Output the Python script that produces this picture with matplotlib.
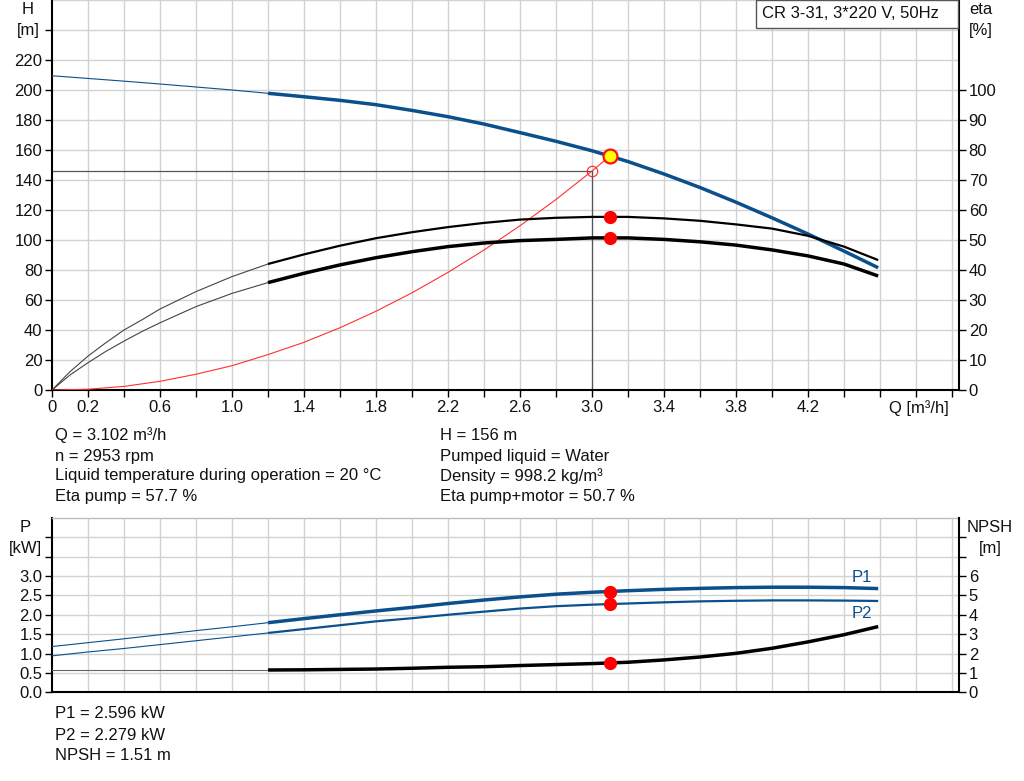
import matplotlib
matplotlib.use('Agg')
import matplotlib.pyplot as plt
from matplotlib.patches import Rectangle
from matplotlib.ticker import FixedLocator

plt.rcParams['font.family'] = ['Liberation Sans', 'DejaVu Sans']
plt.rcParams['font.size'] = 12

# ---------------- data ----------------
q_thin = [0.0, 0.2, 0.4, 0.6, 0.8, 1.0, 1.2]
q_thin_eta = [0.0, 0.1, 0.2, 0.3, 0.4, 0.5, 0.6, 0.8, 1.0, 1.2]
q_main = [1.2, 1.4, 1.6, 1.8, 2.0, 2.2, 2.4, 2.6, 2.8, 3.0, 3.2, 3.4,
          3.6, 3.8, 4.0, 4.2, 4.4, 4.59]

h_thin = [209.5, 207.7, 205.9, 204.0, 202.0, 200.0, 197.8]
h_main = [197.8, 195.5, 193.1, 190.2, 186.4, 182.2, 177.3, 171.6, 165.8,
          159.5, 152.3, 144.0, 135.0, 125.2, 114.8, 104.0, 92.6, 81.5]

eta_p_thin = [0.0, 6.1, 11.3, 15.8, 20.0, 23.4, 27.0, 32.8, 37.8, 42.0]
eta_p_main = [42.0, 45.2, 48.1, 50.6, 52.6, 54.3, 55.7, 56.8, 57.4,
              57.7, 57.7, 57.2, 56.4, 55.2, 53.8, 51.4, 47.8, 43.3]

eta_pm_thin = [0.0, 5.0, 9.1, 12.9, 16.3, 19.5, 22.4, 27.8, 32.2, 35.8]
eta_pm_main = [35.8, 38.9, 41.7, 44.1, 46.1, 47.8, 49.0, 49.8, 50.2,
               50.7, 50.7, 50.2, 49.4, 48.3, 46.7, 44.7, 42.0, 38.0]

q_sys = [0.0, 0.2, 0.4, 0.6, 0.8, 1.0, 1.2, 1.4, 1.6, 1.8, 2.0, 2.2,
         2.4, 2.6, 2.8, 3.0, 3.1]
h_sys = [0.0, 0.5, 2.4, 5.8, 10.5, 16.2, 23.6, 31.8, 41.5, 52.5, 64.8,
         78.4, 93.3, 109.5, 127.0, 146.0, 156.0]

p1_thin = [1.18, 1.28, 1.38, 1.485, 1.59, 1.69, 1.795]
p1_main = [1.795, 1.90, 2.00, 2.098, 2.19, 2.29, 2.38, 2.46, 2.53,
           2.58, 2.62, 2.655, 2.68, 2.70, 2.71, 2.71, 2.70, 2.675]

p2_thin = [0.94, 1.04, 1.13, 1.23, 1.33, 1.43, 1.53]
p2_main = [1.53, 1.63, 1.73, 1.83, 1.91, 2.00, 2.08, 2.16, 2.22,
           2.26, 2.29, 2.32, 2.345, 2.36, 2.37, 2.37, 2.365, 2.355]

npsh_thin = [1.15, 1.15, 1.15, 1.15, 1.15, 1.15, 1.15]
npsh_main = [1.15, 1.16, 1.18, 1.20, 1.24, 1.29, 1.32, 1.38, 1.43,
             1.48, 1.55, 1.67, 1.82, 2.01, 2.27, 2.60, 2.97, 3.39]

duty_q = 3.102
duty_h = 156.0
duty_eta_p = 57.7
duty_eta_pm = 50.7
duty_p1 = 2.596
duty_p2 = 2.279
duty_npsh = 1.51
sys_q = 3.0
sys_h = 146.0

q_ticks = [round(0.2 * i, 1) for i in range(26)]
q_tick_labels = ['0', '0.2', '', '0.6', '', '1.0', '', '1.4', '', '1.8', '',
                 '2.2', '', '2.6', '', '3.0', '', '3.4', '', '3.8', '', '4.2',
                 '', '', '', '']
h_ticks = list(range(0, 241, 20))
h_tick_labels = [str(v) if v <= 220 else '' for v in h_ticks]
eta_ticks = list(range(0, 101, 10))
eta_tick_labels = [str(v) for v in eta_ticks]
p_ticks = [0.0, 0.5, 1.0, 1.5, 2.0, 2.5, 3.0, 3.5, 4.0]
p_tick_labels = ['0.0', '0.5', '1.0', '1.5', '2.0', '2.5', '3.0', '', '']
npsh_ticks = [0, 1, 2, 3, 4, 5, 6, 7, 8]
npsh_tick_labels = ['0', '1', '2', '3', '4', '5', '6', '', '']

title_text = 'CR 3-31, 3*220 V, 50Hz'
info_left = ['Q = 3.102 m³/h', 'n = 2953 rpm',
             'Liquid temperature during operation = 20 °C', 'Eta pump = 57.7 %']
info_right = ['H = 156 m', 'Pumped liquid = Water', 'Density = 998.2 kg/m³',
              'Eta pump+motor = 50.7 %']
info_bottom = ['P1 = 2.596 kW', 'P2 = 2.279 kW', 'NPSH = 1.51 m']

# ---------------- layout ----------------
W, H = 1024, 781
fig = plt.figure(figsize=(W / 100, H / 100), dpi=100)
fig.patch.set_facecolor('white')


def rect(l, t, r, b):
    return [l / W, 1 - b / H, (r - l) / W, (b - t) / H]


BLUE = '#0b4f8c'
GRID = '#d2d2d2'
TXT = '#111111'
FS = 12
XMAX = (959 - 52) / 180.0

# ---------------- top chart ----------------
ax1 = fig.add_axes(rect(52, 0, 959, 390))
ax1.set_xlim(0, XMAX)
ax1.set_ylim(0, 260)
for x in q_ticks[1:]:
    ax1.axvline(x, color=GRID, lw=1.0, zorder=0)
for y in range(20, 261, 20):
    ax1.axhline(y, color=GRID, lw=1.0, zorder=0)

ax1.xaxis.set_major_locator(FixedLocator(q_ticks))
ax1.set_xticklabels(q_tick_labels)
ax1.yaxis.set_major_locator(FixedLocator(h_ticks))
ax1.set_yticklabels(h_tick_labels)
ax1.tick_params(axis='both', direction='out', length=5, width=1,
                colors='black', labelcolor=TXT, labelsize=FS)
ax1.tick_params(axis='x', pad=2)
ax1.tick_params(axis='y', pad=2)
for s in ['left', 'bottom']:
    ax1.spines[s].set_linewidth(1.5)
    ax1.spines[s].set_color('black')
ax1.spines['right'].set_visible(False)
ax1.spines['top'].set_visible(False)

# crosshair to system point
ax1.plot([0, sys_q], [sys_h, sys_h], color='#555555', lw=0.9, zorder=2)
ax1.plot([sys_q, sys_q], [0, sys_h], color='#555555', lw=0.9, zorder=2)
# system curve
ax1.plot(q_sys, h_sys, color='#ff3030', lw=0.8, zorder=3)
# H curve
ax1.plot(q_thin, h_thin, color=BLUE, lw=0.8, zorder=4)
ax1.plot(q_main, h_main, color=BLUE, lw=2.5, zorder=4, solid_capstyle='butt')
ax1.plot([sys_q], [sys_h], marker='o', ms=7.5, mfc='none', mec='#ff2020',
         mew=0.8, zorder=6)
ax1.plot([duty_q], [duty_h], marker='o', ms=10, mfc='#ffff00', mec='#ff1010',
         mew=1.6, zorder=7)

ax1.annotate('Q [m³/h]', xy=(5.0, 0), xycoords=('data', 'axes fraction'),
             xytext=(-2, -13), textcoords='offset points', ha='right',
             va='center', fontsize=FS, color=TXT)

ax1r = ax1.twinx()
ax1r.set_ylim(0, 130)
ax1r.yaxis.set_major_locator(FixedLocator(eta_ticks))
ax1r.set_yticklabels(eta_tick_labels)
ax1r.tick_params(axis='y', direction='out', length=5, width=1, pad=2,
                 colors='black', labelcolor=TXT, labelsize=FS)
for s in ['left', 'top', 'bottom']:
    ax1r.spines[s].set_visible(False)
ax1r.spines['right'].set_linewidth(1.5)
ax1r.spines['right'].set_color('black')

ax1r.plot(q_thin_eta, eta_p_thin, color='#444444', lw=0.8, zorder=3)
ax1r.plot(q_main, eta_p_main, color='black', lw=1.6, zorder=3,
          solid_capstyle='butt')
ax1r.plot(q_thin_eta, eta_pm_thin, color='#444444', lw=0.8, zorder=3)
ax1r.plot(q_main, eta_pm_main, color='black', lw=2.5, zorder=3,
          solid_capstyle='butt')
ax1r.plot([duty_q, duty_q], [duty_eta_p, duty_eta_pm], linestyle='none',
          marker='o', ms=8.5, mfc='#ff0000', mec='#ff0000', zorder=6)

fig.text(28 / W, 1 - 10 / H, 'H', ha='center', va='center', color=TXT,
         fontsize=FS)
fig.text(28 / W, 1 - 31 / H, '[m]', ha='center', va='center', color=TXT,
         fontsize=FS)
fig.text(981 / W, 1 - 10 / H, 'eta', ha='center', va='center', color=TXT,
         fontsize=FS)
fig.text(981 / W, 1 - 31 / H, '[%]', ha='center', va='center', color=TXT,
         fontsize=FS)

box = Rectangle((756 / W, 1 - 28 / H), (958 - 756) / W, 28 / H,
                transform=fig.transFigure, facecolor='white',
                edgecolor='#555555', lw=1.0, zorder=20)
fig.add_artist(box)
fig.text(762 / W, 1 - 14 / H, title_text, ha='left', va='center',
         color=TXT, zorder=21, fontsize=FS)

# ---------------- info text ----------------
rows = [435, 456, 476, 497]
for y, s in zip(rows, info_left):
    fig.text(55 / W, 1 - y / H, s, ha='left', va='center', color=TXT,
             fontsize=FS)
for y, s in zip(rows, info_right):
    fig.text(440 / W, 1 - y / H, s, ha='left', va='center', color=TXT,
             fontsize=FS)

# ---------------- bottom chart ----------------
ax2 = fig.add_axes(rect(52, 517.8, 959, 692.3))
ax2.set_xlim(0, XMAX)
ax2.set_ylim(0, 4.5)
for x in q_ticks[1:]:
    ax2.axvline(x, color=GRID, lw=1.0, zorder=0)
for y in [0.5, 1.0, 1.5, 2.0, 2.5, 3.0, 3.5, 4.0]:
    ax2.axhline(y, color=GRID, lw=1.0, zorder=0)
ax2.set_xticks([])
ax2.yaxis.set_major_locator(FixedLocator(p_ticks))
ax2.set_yticklabels(p_tick_labels)
ax2.tick_params(axis='y', direction='out', length=5, width=1, pad=2,
                colors='black', labelcolor=TXT, labelsize=FS)
for s in ['left', 'bottom']:
    ax2.spines[s].set_linewidth(1.5)
    ax2.spines[s].set_color('black')
ax2.spines['right'].set_visible(False)
ax2.spines['top'].set_color('#bdbdbd')
ax2.spines['top'].set_linewidth(1.0)

ax2.plot(q_thin, p1_thin, color=BLUE, lw=0.8, zorder=3)
ax2.plot(q_main, p1_main, color=BLUE, lw=2.5, zorder=3, solid_capstyle='butt')
ax2.plot(q_thin, p2_thin, color=BLUE, lw=0.8, zorder=3)
ax2.plot(q_main, p2_main, color=BLUE, lw=1.6, zorder=3, solid_capstyle='butt')
ax2.plot([duty_q, duty_q], [duty_p1, duty_p2], linestyle='none', marker='o',
         ms=8.5, mfc='#ff0000', mec='#ff0000', zorder=6)
ax2.text(4.5, 2.95, 'P1', ha='center', va='center', color=BLUE, fontsize=FS)
ax2.text(4.5, 2.02, 'P2', ha='center', va='center', color=BLUE, fontsize=FS)

ax2r = ax2.twinx()
ax2r.set_ylim(0, 9)
ax2r.yaxis.set_major_locator(FixedLocator(npsh_ticks))
ax2r.set_yticklabels(npsh_tick_labels)
ax2r.tick_params(axis='y', direction='out', length=5, width=1, pad=2,
                 colors='black', labelcolor=TXT, labelsize=FS)
for s in ['left', 'top', 'bottom']:
    ax2r.spines[s].set_visible(False)
ax2r.spines['right'].set_linewidth(1.5)
ax2r.spines['right'].set_color('black')
ax2r.plot(q_thin, npsh_thin, color='#666666', lw=0.8, zorder=3)
ax2r.plot(q_main, npsh_main, color='black', lw=2.5, zorder=3,
          solid_capstyle='butt')
ax2r.plot([duty_q], [duty_npsh], linestyle='none', marker='o', ms=8.5,
          mfc='#ff0000', mec='#ff0000', zorder=6)

fig.text(25 / W, 1 - 527 / H, 'P', ha='center', va='center', color=TXT,
         fontsize=FS)
fig.text(25 / W, 1 - 548 / H, '[kW]', ha='center', va='center', color=TXT,
         fontsize=FS)
fig.text(990 / W, 1 - 527 / H, 'NPSH', ha='center', va='center', color=TXT,
         fontsize=FS)
fig.text(990 / W, 1 - 548 / H, '[m]', ha='center', va='center', color=TXT,
         fontsize=FS)

for y, s in zip([714, 735, 756], info_bottom):
    fig.text(55 / W, 1 - y / H, s, ha='left', va='center', color=TXT,
             fontsize=FS)

fig.savefig('out.png', dpi=100, facecolor='white')
